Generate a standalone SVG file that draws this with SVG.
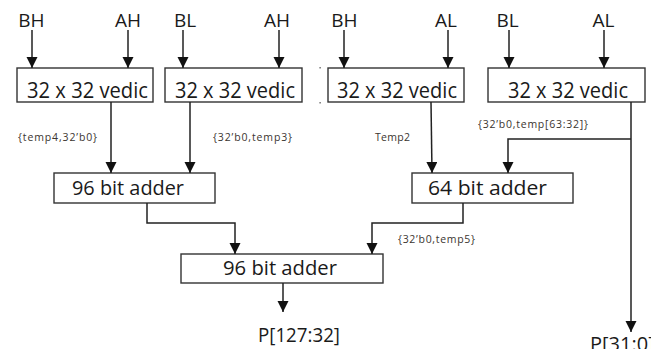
<svg xmlns="http://www.w3.org/2000/svg" width="651" height="349" viewBox="0 0 651 349">
  <style>
    .box { fill: #ffffff; stroke: #333333; stroke-width: 1.4; }
    .wire { fill: none; stroke: #222222; stroke-width: 1.5; }
    .big { font-family: "Open Sans", "Liberation Sans", sans-serif; font-size: 21px; fill: #1a1a1a; }
    .mid { font-family: "Open Sans", "Liberation Sans", sans-serif; font-size: 20px; fill: #1a1a1a; }
    .sig { font-family: "Open Sans", "Liberation Sans", sans-serif; font-size: 19px; fill: #1a1a1a; text-anchor: middle; }
    .bus { font-family: "Open Sans", "Liberation Sans", sans-serif; font-size: 10.5px; fill: #3b3530; }
  </style>
  <defs>
    <marker id="arrow" markerUnits="userSpaceOnUse" markerWidth="12" markerHeight="12" refX="11" refY="5.5" orient="auto">
      <path d="M0,0 L11,5.5 L0,11 Z" fill="#111111"/>
    </marker>
  </defs>

  <!-- operand labels -->
  <g id="inputs">
    <text class="sig" x="31.5" y="27">BH</text>
    <text class="sig" x="128" y="27">AH</text>
    <text class="sig" x="185" y="27">BL</text>
    <text class="sig" x="277" y="27">AH</text>
    <text class="sig" x="344.5" y="27">BH</text>
    <text class="sig" x="446" y="27">AL</text>
    <text class="sig" x="507.5" y="27">BL</text>
    <text class="sig" x="603.5" y="27">AL</text>
  </g>

  <!-- four 32x32 vedic multipliers -->
  <g id="mul1">
    <rect class="box" x="17" y="68" width="136" height="34"/>
    <text class="big" x="27" y="98" textLength="121" lengthAdjust="spacingAndGlyphs">32 x 32 vedic</text>
  </g>
  <g id="mul2">
    <rect class="box" x="165" y="68" width="137" height="34"/>
    <text class="big" x="175" y="98" textLength="120" lengthAdjust="spacingAndGlyphs">32 x 32 vedic</text>
  </g>
  <g id="mul3">
    <rect class="box" x="328" y="68" width="136" height="34"/>
    <text class="big" x="337" y="98" textLength="120" lengthAdjust="spacingAndGlyphs">32 x 32 vedic</text>
  </g>
  <g id="mul4">
    <rect class="box" x="488" y="68" width="157" height="34"/>
    <text class="big" x="508" y="98" textLength="120" lengthAdjust="spacingAndGlyphs">32 x 32 vedic</text>
  </g>

  <!-- adders -->
  <g id="add96a">
    <rect class="box" x="54" y="173" width="161" height="30"/>
    <text class="mid" x="72" y="195" textLength="112" lengthAdjust="spacingAndGlyphs">96 bit adder</text>
  </g>
  <g id="add64">
    <rect class="box" x="412" y="173" width="161" height="30"/>
    <text class="mid" x="428" y="195" textLength="119" lengthAdjust="spacingAndGlyphs">64  bit adder</text>
  </g>
  <g id="add96b">
    <rect class="box" x="181" y="254" width="202" height="29"/>
    <text class="mid" x="223" y="275" textLength="114" lengthAdjust="spacingAndGlyphs">96 bit adder</text>
  </g>

  <!-- bus labels -->
  <g id="bus-labels">
    <text class="bus" x="18" y="141" textLength="79">{temp4,32’b0}</text>
    <text class="bus" x="213" y="141" textLength="79">{32’b0,temp3}</text>
    <text class="bus" x="375" y="141" textLength="35">Temp2</text>
    <text class="bus" x="478" y="128" textLength="110">{32’b0,temp[63:32]}</text>
    <text class="bus" x="398" y="243" textLength="77">{32’b0,temp5}</text>
  </g>

  <!-- outputs -->
  <g id="outputs">
    <text class="mid" x="258" y="342" textLength="82" lengthAdjust="spacingAndGlyphs">P[127:32]</text>
    <text class="mid" x="590" y="351">P[31:0]</text>
  </g>

  <!-- connectors -->
  <g id="connectors">
    <line class="wire" x1="32" y1="30" x2="32" y2="68" marker-end="url(#arrow)"/>
    <line class="wire" x1="128" y1="30" x2="128" y2="68" marker-end="url(#arrow)"/>
    <line class="wire" x1="183" y1="30" x2="183" y2="68" marker-end="url(#arrow)"/>
    <line class="wire" x1="279" y1="30" x2="279" y2="68" marker-end="url(#arrow)"/>
    <line class="wire" x1="344" y1="30" x2="344" y2="68" marker-end="url(#arrow)"/>
    <line class="wire" x1="448" y1="30" x2="448" y2="68" marker-end="url(#arrow)"/>
    <line class="wire" x1="509" y1="30" x2="509" y2="68" marker-end="url(#arrow)"/>
    <line class="wire" x1="604" y1="30" x2="604" y2="68" marker-end="url(#arrow)"/>

    <line class="wire" x1="111" y1="102" x2="111" y2="173" marker-end="url(#arrow)"/>
    <line class="wire" x1="190" y1="102" x2="190" y2="173" marker-end="url(#arrow)"/>
    <line class="wire" x1="431" y1="102" x2="432" y2="173" marker-end="url(#arrow)"/>
    <polyline class="wire" points="631,139 508,139 508,173" marker-end="url(#arrow)"/>
    <line class="wire" x1="631" y1="102" x2="631" y2="332" marker-end="url(#arrow)"/>

    <polyline class="wire" points="147,203 147,223 235,223 235,254" marker-end="url(#arrow)"/>
    <polyline class="wire" points="463,203 463,223 372,223 372,254" marker-end="url(#arrow)"/>
    <line class="wire" x1="283" y1="283" x2="283" y2="312" marker-end="url(#arrow)"/>
  </g>

  <!-- stray marks between the multiplier blocks -->
  <g id="marks" fill="#555555">
    <rect x="319.5" y="67" width="1.2" height="1.5"/>
    <rect x="319.5" y="102" width="1.2" height="1.5"/>
  </g>
</svg>
